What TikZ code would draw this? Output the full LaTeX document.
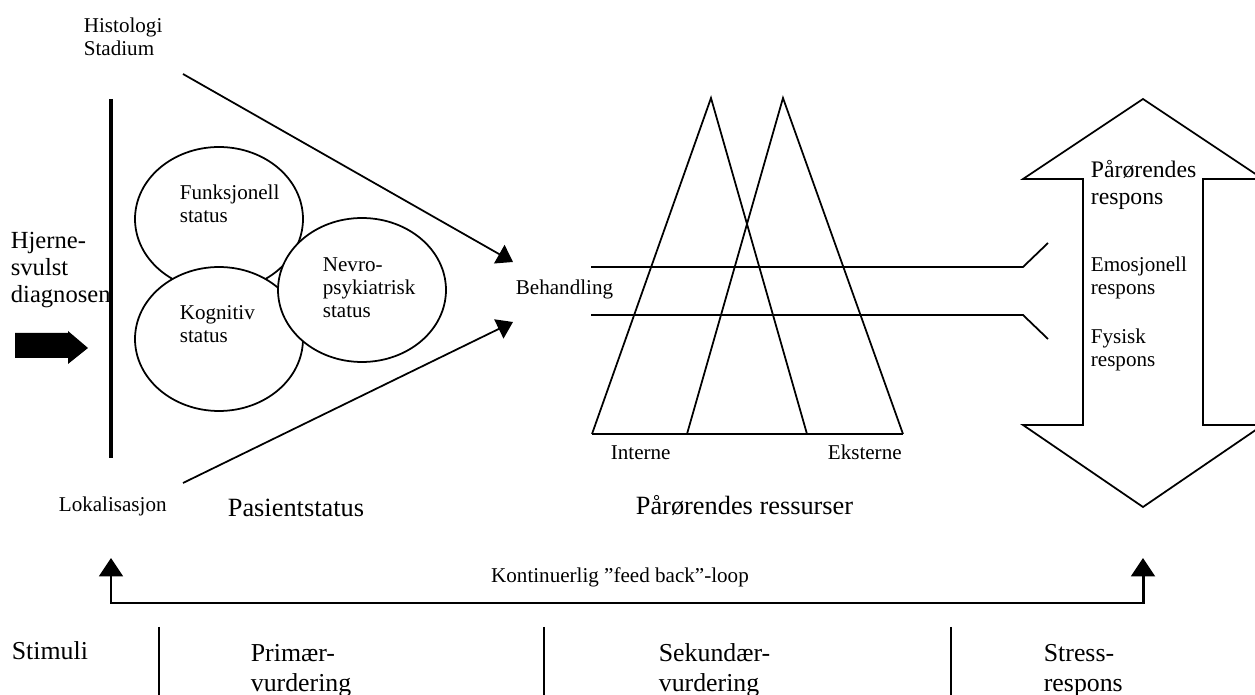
\documentclass[tikz,border=0pt]{standalone}
\usepackage{fontspec}
\setmainfont{Liberation Serif}
\usetikzlibrary{arrows.meta,shapes.geometric}

\begin{document}
\begin{tikzpicture}[x=0.02cm, y=-0.02cm, line width=1pt,
    small/.style={inner sep=0pt, anchor=base west, align=left, font=\fontsize{12}{13.2}\selectfont},
    large/.style={inner sep=0pt, anchor=base west, align=left, font=\fontsize{14}{15.6}\selectfont},
    phase/.style={inner sep=0pt, anchor=base west, align=left, font=\fontsize{14.7}{17.6}\selectfont},
    status/.style={draw, fill=white, ellipse, inner sep=0pt, minimum width=3.36cm, minimum height=2.88cm},
    tip/.style={-{Triangle[length=9pt,width=12pt]}}]
  \useasboundingbox (0,0) rectangle (1255,695);
  \clip (0,0) rectangle (1255,695);

  % stimulus
  \node[large] (hjernesvulst) at (10,303) {Hjerne-\\svulst\\diagnosen};
  \fill (15,333) -- (68,333) -- (68,331) -- (88,348) -- (68,364) -- (68,358) -- (15,358) -- cycle;
  \draw[line width=2pt] (111,99) -- (111,458);

  % patient status
  \node[small] (histologi) at (83,56) {Histologi\\Stadium};
  \node[small] (lokalisasjon) at (58,512) {Lokalisasjon};
  \node[status] (funksjonell) at (219,219) {};
  \node[small] at (179,223) {Funksjonell\\status};
  \node[status] (kognitiv) at (219,339) {};
  \node[small] at (179,343) {Kognitiv\\status};
  \node[status] (nevro) at (362,290) {};
  \node[small] at (322,318) {Nevro-\\psykiatrisk\\status};
  \node[large, font=\fontsize{15}{16}\selectfont] (pasientstatus) at (227,517) {Pasientstatus};

  \node[small] (behandling) at (515,295) {Behandling};
  \coordinate (histo-end) at (183,74);
  \coordinate (lok-end) at (183,483);
  \coordinate (beh-top) at (513,262);
  \coordinate (beh-bot) at (513,322);
  \draw[tip] (histo-end) -- (beh-top);
  \draw[tip] (lok-end) -- (beh-bot);

  % resources
  \draw (592,434) -- (711,98) -- (807,434);
  \draw (687,434) -- (783,98) -- (903,434);
  \draw (592,434) -- (903,434);
  \draw (591,267) -- (1023,267) -- (1048,243);
  \draw (591,315) -- (1023,315) -- (1048,339);
  \node[small] (interne) at (610,460) {Interne};
  \node[small] (eksterne) at (827,460) {Eksterne};
  \node[large, font=\fontsize{15}{16}\selectfont] (ressurser) at (635,515) {Pårørendes ressurser};

  % response
  \draw (1083,179) -- (1023,179) -- (1143,99) -- (1263,179) -- (1203,179)
     -- (1203,425) -- (1263,425) -- (1143,507) -- (1023,425) -- (1083,425) -- cycle;
  \node[large, font=\fontsize{13.5}{15.4}\selectfont] (respons) at (1090,205) {Pårørendes\\respons};
  \node[small] (emosjonell) at (1090,295) {Emosjonell\\respons};
  \node[small] (fysisk) at (1090,367) {Fysisk\\respons};

  % feed back
  \coordinate (fb-left) at (111,558);
  \coordinate (fb-right) at (1143,558);
  \draw[line width=1.7pt, {Triangle[length=10.5pt,width=13.5pt]}-{Triangle[length=10.5pt,width=13.5pt]}]
    (fb-left) -- (111,603) -- (1143,603) -- (fb-right);
  \node[small, anchor=base] (feedback) at (620,583) {Kontinuerlig ”feed back”-loop};

  % phases
  \foreach \x in {159,544,951}
    \draw[line width=0.8pt] (\x,627) -- (\x,700);
  \node[phase] (stimuli) at (11,660) {Stimuli};
  \node[phase] (primaer) at (250,692) {Primær-\\vurdering};
  \node[phase] (sekundaer) at (658,692) {Sekundær-\\vurdering};
  \node[phase] (stress) at (1043,692) {Stress-\\respons};
\end{tikzpicture}
\end{document}
